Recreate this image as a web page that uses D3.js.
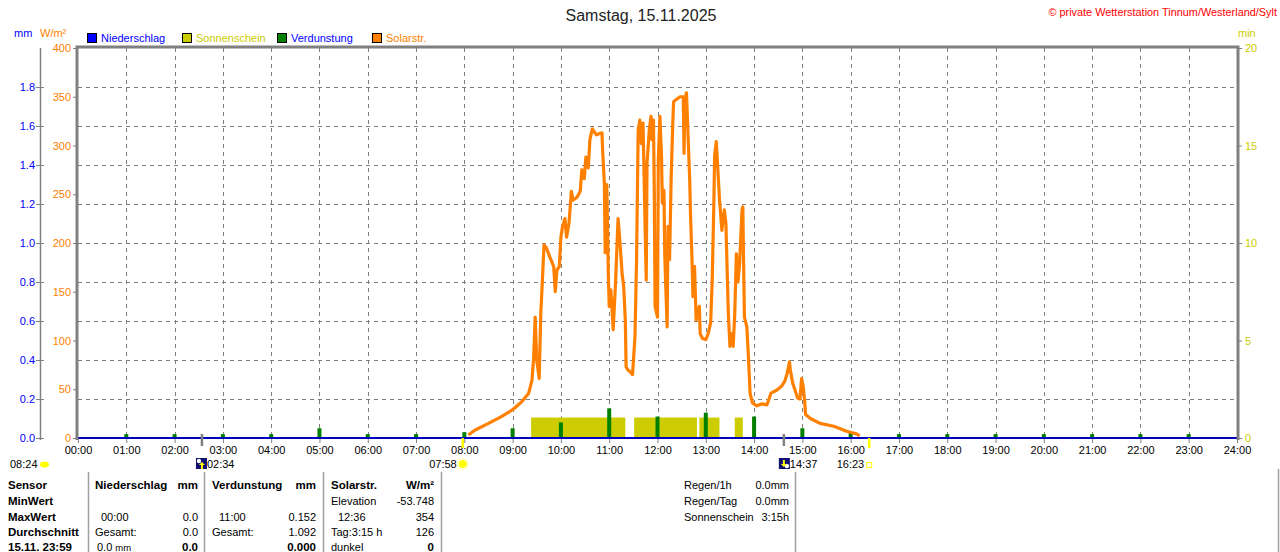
<!DOCTYPE html>
<html><head><meta charset="utf-8">
<script src="https://cdn.jsdelivr.net/npm/d3@7"></script>
<style>
html,body{margin:0;padding:0;background:#fff;}
svg{display:block;font-family:"Liberation Sans",Arial,sans-serif;}
</style></head>
<body>
<svg id="chart" width="1280" height="552"></svg>
<script>
// ---------- data ----------
const hourLabels = d3.range(0, 25).map(h => String(h).padStart(2, "0") + ":00");
const mmTicks = [0.0, 0.2, 0.4, 0.6, 0.8, 1.0, 1.2, 1.4, 1.6, 1.8];
const wTicks = [0, 50, 100, 150, 200, 250, 300, 350, 400];
const minTicks = [0, 5, 10, 15, 20];

// evaporation (mm) per hour 00:00 .. 23:00
const evapHours = d3.range(0, 24);
const evapValues = [0, 0.02, 0.02, 0.02, 0.02, 0.05, 0.02, 0.02, 0.03, 0.05, 0.08, 0.152,
                    0.11, 0.13, 0.11, 0.05, 0.03, 0.02, 0.02, 0.02, 0.02, 0.02, 0.02, 0.02];

// sunshine periods (min per minute)
const sunStart = ["09:23", "11:31", "12:52", "13:36"];
const sunEnd   = ["11:20", "12:49", "13:17", "13:46"];
const sunValue = [1.05, 1.05, 1.05, 1.05];

// solar radiation W/m²
const solarTime = ["08:05","08:13","08:30","08:46","09:00","09:11","09:20","09:24","09:26","09:28",
"09:30","09:33","09:35","09:37","09:39","09:42","09:46","09:51","09:53","09:55","09:58",
"10:00","10:02","10:05","10:07","10:10","10:13","10:15","10:20","10:24","10:26","10:29",
"10:31","10:34","10:36","10:39","10:44","10:51","10:52","10:54","10:55","10:57","10:59",
"11:00","11:02","11:05","11:08","11:11","11:13","11:16","11:18","11:20","11:21","11:23",
"11:26","11:29","11:32","11:34","11:36","11:38","11:40","11:42","11:45","11:46","11:47",
"11:50","11:52","11:53","11:55","11:56","11:57","12:00","12:01","12:03","12:05","12:06",
"12:08","12:09","12:10","12:12","12:13","12:15","12:17","12:19","12:20","12:23","12:28",
"12:32","12:33","12:34","12:36","12:38","12:40","12:41","12:43","12:44","12:46","12:48",
"12:52","12:53","12:56","13:00","13:03","13:06","13:08","13:10","13:11","13:13","13:15",
"13:17","13:20","13:23","13:25","13:26","13:28","13:30","13:32","13:34","13:36","13:38",
"13:40","13:42","13:45","13:46","13:47","13:48","13:51","13:53","13:55","13:58","14:03",
"14:10","14:16","14:21","14:28","14:34","14:38","14:41","14:44","14:45","14:48","14:51",
"14:54","14:57","14:59","15:01","15:03","15:04","15:10","15:22","15:39","15:55","16:08","16:11"];
const solarWm2 = [3,8,15,22,29,37,46,59,80,124,
80,61,128,162,198,195,186,176,150,172,176,
206,217,225,206,220,253,244,247,253,275,266,
288,277,306,317,311,313,292,260,190,260,165,
135,152,111,162,225,205,169,155,121,73,70,
68,65,104,183,316,326,302,323,200,162,282,
318,330,306,326,254,135,124,285,330,288,241,
254,189,162,114,217,183,268,323,345,347,350,
350,292,347,354,309,265,230,179,145,176,121,
135,107,102,101,107,118,162,240,290,304,275,
245,213,234,220,189,128,94,107,94,128,189,
160,179,234,237,179,124,114,83,46,36,33,
35,34,46,49,53,58,66,78,70,56,49,
41,40,61,53,36,24,20,15,12,7,4,2];

// astronomical events
const moonRise = "02:34", moonSet = "14:37", sunRise = "07:58", sunSet = "16:23", cloudTime = "08:24";

// ---------- helpers ----------
const toH = s => { const [h, m] = s.split(":").map(Number); return h + m / 60; };

const svg = d3.select("#chart");
const L = 78, R = 1237, T = 48, B = 438;
const x = d3.scaleLinear().domain([0, 24]).range([L, R]);
const yW = d3.scaleLinear().domain([0, 400]).range([B, T]);
const yMM = d3.scaleLinear().domain([0, 2]).range([B, T]);
const yMin = d3.scaleLinear().domain([0, 20]).range([B, T]);

const GRAY = "#808080", BLUE = "#0000FF", ORANGE = "#FF8000", YEL = "#CCCC00", GREEN = "#008000";
const FONT = 11, BFONT = 11.5;
const FF = "Liberation Sans, Arial, sans-serif";

// title
svg.append("text").attr("x", 641).attr("y", 21).attr("text-anchor", "middle")
  .attr("font-size", 16).attr("fill", "#222").text("Samstag, 15.11.2025");
svg.append("text").attr("x", 1277).attr("y", 16).attr("text-anchor", "end")
  .attr("font-size", 10.9).attr("fill", "#FF0000").text("© private Wetterstation Tinnum/Westerland/Sylt");

// axis unit labels
svg.append("text").attr("x", 14).attr("y", 37).attr("font-size", FONT).attr("fill", BLUE).text("mm");
svg.append("text").attr("x", 40).attr("y", 37).attr("font-size", FONT).attr("fill", ORANGE).text("W/m²");
svg.append("text").attr("x", 1238).attr("y", 37).attr("font-size", FONT).attr("fill", YEL).text("min");

// legend
const legend = [
  {name: "Niederschlag", fill: BLUE, text: BLUE},
  {name: "Sonnenschein", fill: YEL, text: YEL},
  {name: "Verdunstung", fill: GREEN, text: BLUE},
  {name: "Solarstr.", fill: ORANGE, text: ORANGE}
];
legend.forEach((d, i) => {
  const lx = 87 + i * 95;
  svg.append("rect").attr("x", lx + 0.5).attr("y", 33.5).attr("width", 9).attr("height", 9)
    .attr("fill", d.fill).attr("stroke", "#000").attr("stroke-width", 1);
  svg.append("text").attr("x", lx + 14).attr("y", 42).attr("font-size", FONT).attr("fill", d.text).text(d.name);
});

// grid
const grid = svg.append("g").attr("stroke", GRAY).attr("stroke-width", 1).attr("stroke-dasharray", "4,4");
d3.range(1, 24).forEach(h => grid.append("line")
  .attr("x1", Math.round(x(h)) + 0.5).attr("x2", Math.round(x(h)) + 0.5).attr("y1", T).attr("y2", B));
mmTicks.slice(1).forEach(v => grid.append("line")
  .attr("x1", L).attr("x2", R).attr("y1", Math.round(yMM(v)) + 0.5).attr("y2", Math.round(yMM(v)) + 0.5));

// mm axis (far left)
const axMM = svg.append("g").attr("transform", "translate(40,0)")
  .call(d3.axisLeft(yMM).tickValues(mmTicks).tickFormat(d3.format(".1f")).tickSize(4).tickPadding(3));
axMM.select(".domain").remove();
axMM.append("line").attr("x1", 0.5).attr("x2", 0.5).attr("y1", T).attr("y2", B + 2).attr("stroke", GRAY).attr("stroke-width", 1.5);
axMM.selectAll(".tick line").attr("stroke", GRAY).attr("x1", 4).attr("x2", -4);
axMM.selectAll(".tick text").attr("fill", BLUE).attr("font-size", FONT).attr("font-family", FF).attr("x", -5);

// W/m² axis
const axW = svg.append("g").attr("transform", `translate(${L},0)`)
  .call(d3.axisLeft(yW).tickValues(wTicks).tickSize(5).tickPadding(2));
axW.select(".domain").remove();
axW.selectAll(".tick line").attr("stroke", GRAY);
axW.selectAll(".tick text").attr("fill", ORANGE).attr("font-size", FONT).attr("font-family", FF);

// min axis (right)
const axMin = svg.append("g").attr("transform", `translate(${R},0)`)
  .call(d3.axisRight(yMin).tickValues(minTicks).tickSize(5).tickPadding(3));
axMin.select(".domain").remove();
axMin.selectAll(".tick line").attr("stroke", GRAY);
axMin.selectAll(".tick text").attr("fill", YEL).attr("font-size", FONT).attr("font-family", FF);

// x axis
const axX = svg.append("g").attr("transform", `translate(0,${B})`)
  .call(d3.axisBottom(x).tickValues(d3.range(0, 25)).tickFormat((d, i) => hourLabels[i]).tickSize(5).tickPadding(3));
axX.select(".domain").remove();
axX.selectAll(".tick line").attr("stroke", GRAY);
axX.selectAll(".tick text").attr("fill", "#000").attr("font-size", FONT).attr("font-family", FF);

// sunshine bars
svg.append("g").selectAll("rect").data(sunStart).join("rect")
  .attr("x", (d, i) => x(toH(d)))
  .attr("width", (d, i) => x(toH(sunEnd[i])) - x(toH(d)))
  .attr("y", (d, i) => yMin(sunValue[i]))
  .attr("height", (d, i) => B - yMin(sunValue[i]))
  .attr("fill", YEL);

// evaporation bars
svg.append("g").selectAll("rect").data(evapHours).join("rect")
  .attr("x", d => x(d) - 2)
  .attr("width", 4)
  .attr("y", (d, i) => yMM(evapValues[i]))
  .attr("height", (d, i) => B - yMM(evapValues[i]))
  .attr("fill", GREEN);

// solar line
const line = d3.line().x((d, i) => x(toH(solarTime[i]))).y((d, i) => yW(solarWm2[i]));
svg.append("path").datum(solarWm2).attr("d", line).attr("fill", "none")
  .attr("stroke", ORANGE).attr("stroke-width", 3.2).attr("stroke-linejoin", "round");

// precipitation zero line
svg.append("line").attr("x1", L).attr("x2", R).attr("y1", B).attr("y2", B).attr("stroke", "#0000C0").attr("stroke-width", 2);

// plot frame (left, top, right)
svg.append("path").attr("d", `M${L - 1},${B + 2}V${T - 1}H${R + 1}V${B + 2}`)
  .attr("fill", "none").attr("stroke", GRAY).attr("stroke-width", 3);

// event markers on x axis
[moonRise, moonSet].forEach(t => svg.append("line")
  .attr("x1", x(toH(t))).attr("x2", x(toH(t))).attr("y1", B - 4).attr("y2", B + 8).attr("stroke", GRAY).attr("stroke-width", 2.5));
[sunRise, sunSet].forEach(t => svg.append("line")
  .attr("x1", x(toH(t))).attr("x2", x(toH(t))).attr("y1", B).attr("y2", B + 10).attr("stroke", "#FFFF00").attr("stroke-width", 2.5));

// event labels row
const ly = 468;
const ev = svg.append("g").attr("font-size", FONT).attr("fill", "#000");
ev.append("text").attr("x", 10).attr("y", ly).text(cloudTime);
ev.append("ellipse").attr("cx", 44.5).attr("cy", 464.5).attr("rx", 4.5).attr("ry", 3).attr("fill", "#FFFF00");
// moonrise
const mrx = x(toH(moonRise));
ev.append("rect").attr("x", mrx - 6).attr("y", 458).attr("width", 11).attr("height", 11).attr("fill", "#101070");
ev.append("circle").attr("cx", mrx - 3).attr("cy", 461).attr("r", 2.2).attr("fill", "#fff");
ev.append("path").attr("d", `M${mrx},462 l-3,3 h2 v4 h2 v-4 h2 z`).attr("fill", "#FFFF00");
ev.append("text").attr("x", mrx + 5).attr("y", ly).text(moonRise);
// sunrise
const srx = x(toH(sunRise));
ev.append("text").attr("x", srx - 6).attr("y", ly).attr("text-anchor", "end").text(sunRise);
ev.append("circle").attr("cx", srx).attr("cy", 464).attr("r", 4).attr("fill", "#FFFF00");
ev.append("circle").attr("cx", srx).attr("cy", 464).attr("r", 5.5).attr("fill", "none").attr("stroke", "#FFFF60").attr("stroke-width", 1).attr("stroke-dasharray", "2,1.5");
// moonset
const msx = x(toH(moonSet));
ev.append("rect").attr("x", msx - 5).attr("y", 458).attr("width", 11).attr("height", 11).attr("fill", "#101070");
ev.append("circle").attr("cx", msx + 3).attr("cy", 466).attr("r", 2.2).attr("fill", "#fff");
ev.append("path").attr("d", `M${msx},467 l-3,-3 h2 v-4 h2 v4 h2 z`).attr("fill", "#FFFF00");
ev.append("text").attr("x", msx + 6).attr("y", ly).text(moonSet);
// sunset
const ssx = x(toH(sunSet));
ev.append("text").attr("x", ssx - 5).attr("y", ly).attr("text-anchor", "end").text(sunSet);
ev.append("rect").attr("x", ssx - 2.5).attr("y", 462.5).attr("width", 5).attr("height", 5).attr("fill", "none").attr("stroke", "#FFFF00").attr("stroke-width", 1);

// ---------- table ----------
const tbl = svg.append("g").attr("font-size", FONT).attr("fill", "#000");
[88, 204, 323, 441, 795].forEach(vx => tbl.append("line")
  .attr("x1", vx + 0.5).attr("x2", vx + 0.5).attr("y1", 472).attr("y2", 552).attr("stroke", "#A0A0A0").attr("stroke-width", 1.5));
tbl.append("line").attr("x1", 1278.5).attr("x2", 1278.5).attr("y1", 469).attr("y2", 552).attr("stroke", "#A0A0A0").attr("stroke-width", 1.5);

const rows = [489, 505, 521, 536, 551];
const rowHead = ["Sensor", "MinWert", "MaxWert", "Durchschnitt", "15.11. 23:59"];
rowHead.forEach((t, i) => tbl.append("text").attr("x", 8).attr("y", rows[i]).attr("font-size", BFONT).attr("font-weight", "bold").text(t));

function cell(xx, yy, t, opts = {}) {
  const el = tbl.append("text").attr("x", xx).attr("y", yy).text(t);
  if (opts.bold) el.attr("font-weight", "bold").attr("font-size", BFONT);
  if (opts.end) el.attr("text-anchor", "end");
  return el;
}
// Niederschlag
cell(95, rows[0], "Niederschlag", {bold: true}); cell(198, rows[0], "mm", {bold: true, end: true});
cell(101, rows[2], "00:00"); cell(198, rows[2], "0.0", {end: true});
cell(95, rows[3], "Gesamt:"); cell(198, rows[3], "0.0", {end: true});
const t5 = cell(97, rows[4], "0.0 "); t5.append("tspan").attr("font-size", 9.5).text("mm");
cell(198, rows[4], "0.0", {bold: true, end: true});
// Verdunstung
cell(212, rows[0], "Verdunstung", {bold: true}); cell(316, rows[0], "mm", {bold: true, end: true});
cell(219, rows[2], "11:00"); cell(316, rows[2], "0.152", {end: true});
cell(212, rows[3], "Gesamt:"); cell(316, rows[3], "1.092", {end: true});
cell(316, rows[4], "0.000", {bold: true, end: true});
// Solarstr.
cell(331, rows[0], "Solarstr.", {bold: true}); cell(434, rows[0], "W/m²", {bold: true, end: true});
cell(331, rows[1], "Elevation"); cell(434, rows[1], "-53.748", {end: true});
cell(338, rows[2], "12:36"); cell(434, rows[2], "354", {end: true});
cell(331, rows[3], "Tag:3:15 h"); cell(434, rows[3], "126", {end: true});
cell(331, rows[4], "dunkel"); cell(434, rows[4], "0", {bold: true, end: true});
// summary
cell(684, rows[0], "Regen/1h"); cell(789, rows[0], "0.0mm", {end: true});
cell(684, rows[1], "Regen/Tag"); cell(789, rows[1], "0.0mm", {end: true});
cell(684, rows[2], "Sonnenschein"); cell(789, rows[2], "3:15h", {end: true});
</script>
</body></html>
